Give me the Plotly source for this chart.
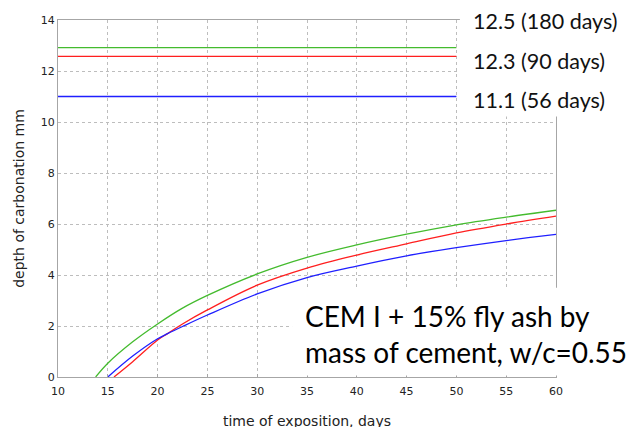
import plotly.graph_objects as go

# Data
green_t = [13.78, 15, 17.5, 20, 22.5, 25, 30, 35, 40, 45, 50, 55, 60]
green_d = [0.0, 0.54, 1.38, 2.08, 2.7, 3.2, 4.04, 4.69, 5.18, 5.6, 5.97, 6.27, 6.54]
red_t = [15.62, 17.5, 20, 21, 22.5, 25, 30, 35, 40, 45, 50, 55, 60]
red_d = [0.0, 0.6, 1.45, 1.7, 2.08, 2.63, 3.6, 4.27, 4.78, 5.22, 5.65, 6.0, 6.31]
blue_t = [15.0, 17.5, 20, 21, 22.5, 25, 30, 35, 40, 45, 50, 55, 60]
blue_d = [0.0, 0.82, 1.5, 1.7, 1.98, 2.43, 3.26, 3.9, 4.35, 4.75, 5.07, 5.35, 5.59]

limit_x = [10, 50]
limit_green = [12.92, 12.92]
limit_red = [12.57, 12.57]
limit_blue = [11.0, 11.0]
limit_labels = ["12.5 (180 days)", "12.3 (90 days)", "11.1 (56 days)"]
limit_label_y = [13.95, 12.4, 10.85]

x_ticks = [10, 15, 20, 25, 30, 35, 40, 45, 50, 55, 60]
y_ticks = [0, 2, 4, 6, 8, 10, 12, 14]

GREEN = "#44bb2e"
RED = "#ff1f1f"
BLUE = "#1f1fff"

fig = go.Figure()
for t, d, c in [(green_t, green_d, GREEN), (red_t, red_d, RED), (blue_t, blue_d, BLUE)]:
    fig.add_trace(go.Scatter(x=t, y=d, mode="lines", line=dict(color=c, width=1.3, shape="spline"),
                             showlegend=False, hoverinfo="skip"))
for yv, c in [(limit_green, GREEN), (limit_red, RED), (limit_blue, BLUE)]:
    fig.add_trace(go.Scatter(x=limit_x, y=yv, mode="lines", line=dict(color=c, width=1.3),
                             showlegend=False, hoverinfo="skip"))

# white boxes behind the texts
fig.add_shape(type="rect", xref="paper", yref="paper", x0=0.807, x1=1.3, y0=0.73, y1=1.2,
              fillcolor="white", line=dict(width=0), layer="above")
fig.add_shape(type="rect", xref="paper", yref="paper", x0=0.47, x1=1.3, y0=0.004, y1=0.25,
              fillcolor="white", line=dict(width=0), layer="above")

for lab, ly in zip(limit_labels, limit_label_y):
    fig.add_annotation(x=0.829, xref="paper", y=ly, yref="y", text=lab, showarrow=False,
                       xanchor="left", yanchor="middle",
                       font=dict(family="Lato", size=21.5, color="#111111"))

fig.add_annotation(x=0.492, xref="paper", y=0.172, yref="paper",
                   text="CEM I + 15% fly ash by", showarrow=False, xanchor="left", yanchor="middle",
                   font=dict(family="Lato", size=28, color="#000000"))
fig.add_annotation(x=0.492, xref="paper", y=0.07, yref="paper",
                   text="mass of cement, w/c=0.55", showarrow=False, xanchor="left", yanchor="middle",
                   font=dict(family="Lato", size=28, color="#000000"))

axis_common = dict(showline=True, linecolor="#a6a6a6", linewidth=1, mirror=True,
                   showgrid=True, gridcolor="#bdbdbd", griddash="dot", gridwidth=1,
                   zeroline=False, automargin=False,
                   tickfont=dict(family="DejaVu Sans", size=11, color="#222222"))

fig.update_xaxes(range=[10, 60], tickvals=x_ticks, ticks="inside", ticklen=3, tickcolor="#a6a6a6",
                 ticklabelstandoff=4,
                 title=dict(text="time of exposition, days", standoff=18,
                            font=dict(family="DejaVu Sans", size=14, color="#222222")),
                 **axis_common)
fig.update_yaxes(range=[0, 14], tickvals=y_ticks, ticks="",
                 title=dict(text="depth of carbonation mm", standoff=12,
                            font=dict(family="DejaVu Sans", size=14, color="#222222")),
                 **axis_common)

# the page is drawn with an 8px body offset, so margins compensate for it
fig.update_layout(width=634, height=427, margin=dict(l=50, r=86, t=12, b=58),
                  plot_bgcolor="white", paper_bgcolor="white")

fig.write_html("out.html")
